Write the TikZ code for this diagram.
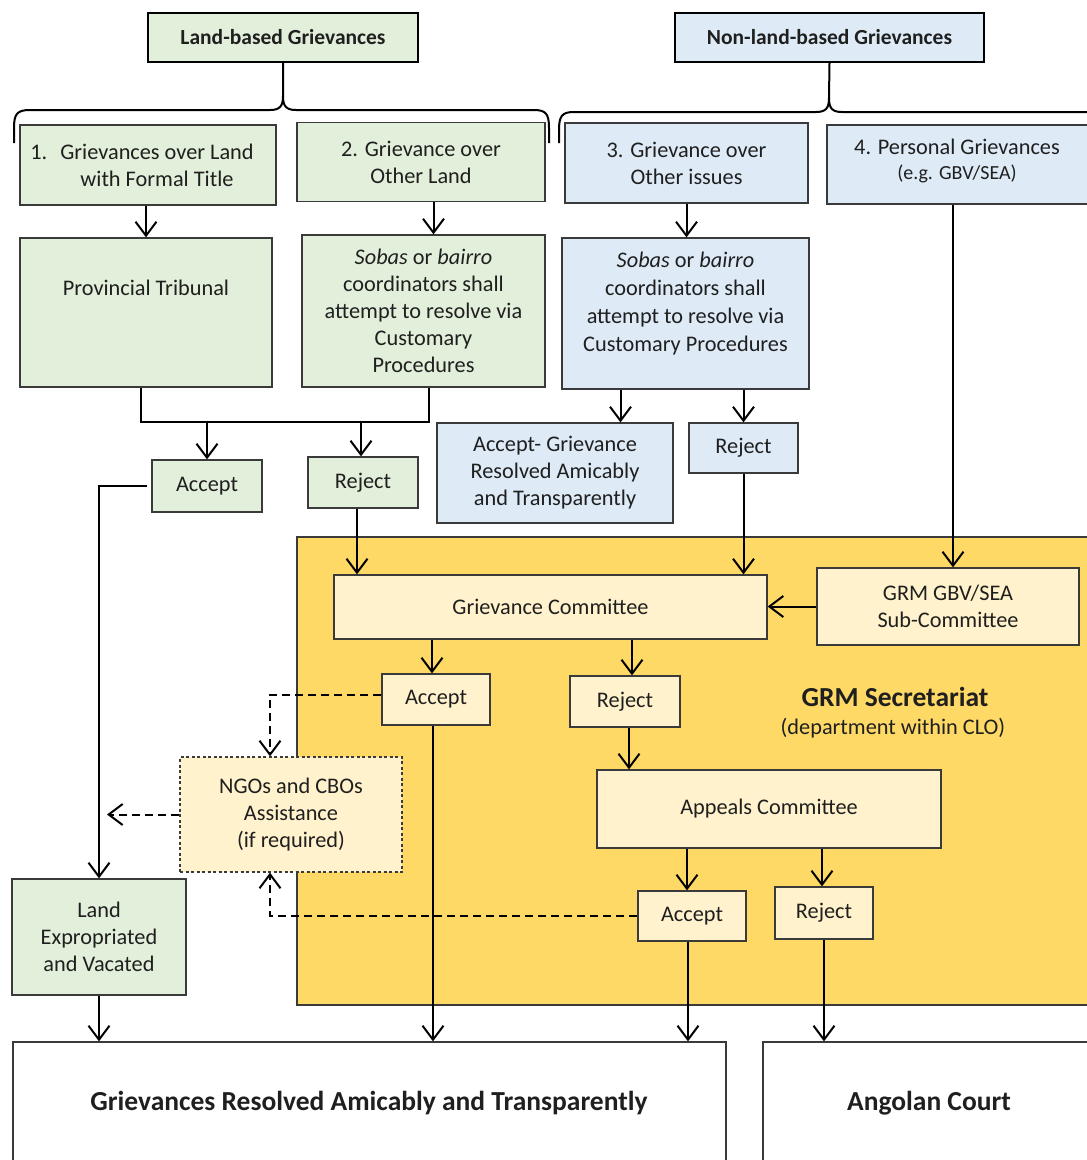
\documentclass[tikz,border=0pt]{standalone}
\usepackage{fontspec}
\setmainfont{Carlito}
\usetikzlibrary{arrows.meta,calc}

\definecolor{landfill}{HTML}{E2EFDA}
\definecolor{nonfill}{HTML}{DEEBF7}
\definecolor{secfill}{HTML}{FFD966}
\definecolor{paleyellow}{HTML}{FFF2CC}
\definecolor{edge}{HTML}{3A3A3A}
\definecolor{ink}{HTML}{1F1F1F}

\tikzset{
  base/.style={draw=edge, line width=1.3pt, align=center, text=ink, inner sep=0pt,
               font=\fontsize{22.3}{27}\selectfont},
  landbox/.style={base, fill=landfill},
  nonbox/.style={base, fill=nonfill},
  ybox/.style={base, fill=paleyellow},
  titlebox/.style={base, draw=black, line width=2.2pt, font=\bfseries\fontsize{21.5}{25}\selectfont},
  outbox/.style={base, fill=white},
  txt/.style={align=center, text=ink, inner sep=0pt, font=\fontsize{22.3}{27}\selectfont},
  bigtxt/.style={txt, font=\bfseries\fontsize{27.5}{32}\selectfont},
  conn/.style={draw=black, line width=2pt},
  arr/.style={conn, -{Straight Barb[length=14pt,width=21pt]}},
  darr/.style={conn, dash pattern=on 8pt off 5pt, -{Straight Barb[length=14pt,width=21pt]}},
  bracepath/.style={draw=black, line width=2pt},
}

\begin{document}
\begin{tikzpicture}[x=1pt, y=-1pt]
\useasboundingbox (0,0) rectangle (1087,1160);
\clip (0,0) rectangle (1087,1160);

% GRM Secretariat background panel
\draw[fill=secfill, draw=edge, line width=2pt] (297,537) rectangle (1100,1005);
\node[bigtxt] (sectitle) at (895,697) {GRM Secretariat};
\node[txt] (secsub) at (893,728) {(department within CLO)};

% category headings
\node[titlebox, fill=landfill, minimum width=270pt, minimum height=49pt] (lb) at (283,37.5) {Land-based Grievances};
\node[titlebox, fill=nonfill, minimum width=309pt, minimum height=49pt] (nlb) at (829.5,37.5) {Non-land-based Grievances};

% braces under the headings
\draw[bracepath] (lb.south) -- (283,96) .. controls (283,106) and (286,110) .. (296,110) -- (534,110)
  .. controls (546,110) and (549,114) .. (549,128) -- (549,143);
\draw[bracepath] (283,96) .. controls (283,106) and (280,110) .. (270,110) -- (30,110)
  .. controls (17,110) and (14,114) .. (14,128) -- (14,143);
\draw[bracepath] (nlb.south) -- (829,98) .. controls (829,108) and (832,112) .. (842,112) -- (1100,112);
\draw[bracepath] (829,98) .. controls (829,108) and (826,112) .. (816,112) -- (574,112)
  .. controls (562,112) and (559,116) .. (559,130) -- (559,143);

% grievance types
\node[landbox, minimum width=256pt, minimum height=80pt] (b1) at (148,165) {};
\node[txt] (b1text) at (157,165) {\llap{1.\hspace{13pt}}Grievances over Land\\with Formal Title};
\node[landbox, minimum width=248pt, minimum height=79pt] (b2) at (421,162) {2. Grievance over\\Other Land};
\node[nonbox, minimum width=243pt, minimum height=80pt] (b3) at (686.5,163) {3. Grievance over\\Other issues};
\node[nonbox, minimum width=272pt, minimum height=79pt] (b4) at (963,164.5) {};
\node[txt] (b4a) at (957,147) {4. Personal Grievances};
\node[txt, font=\fontsize{20}{24}\selectfont] (b4b) at (957,174) {(e.g. GBV/SEA)};

% first-level handling
\node[landbox, minimum width=252pt, minimum height=149pt] (pt) at (146,312.5) {};
\node[txt] (pttext) at (146,288) {Provincial Tribunal};
\node[landbox, minimum width=243pt, minimum height=152pt] (sob) at (423.5,311)
  {\textit{Sobas} or \textit{bairro}\\coordinators shall\\attempt to resolve via\\Customary\\Procedures};
\node[nonbox, minimum width=247pt, minimum height=151pt] (sobb) at (685.5,313.5) {};
\node[txt, font=\fontsize{22.3}{28}\selectfont] (sobbtext) at (685.5,303.5)
  {\textit{Sobas} or \textit{bairro}\\coordinators shall\\attempt to resolve via\\Customary Procedures};

\node[landbox, minimum width=110pt, minimum height=52pt] (acc1) at (207,486) {Accept};
\node[landbox, minimum width=110pt, minimum height=51pt] (rej1) at (363,482.5) {Reject};
\node[nonbox, minimum width=236pt, minimum height=100pt] (accb) at (555,473)
  {Accept- Grievance\\Resolved Amicably\\and Transparently};
\node[nonbox, minimum width=109pt, minimum height=50pt] (rejb) at (743.5,448) {Reject};

% GRM Secretariat committees
\node[ybox, minimum width=433pt, minimum height=64pt] (gc) at (550.5,607) {Grievance Committee};
\node[ybox, minimum width=262pt, minimum height=77pt] (gbv) at (948,606.5) {GRM GBV/SEA\\Sub-Committee};
\node[ybox, minimum width=108pt, minimum height=51pt] (accy) at (436,699.5) {Accept};
\node[ybox, minimum width=110pt, minimum height=51pt] (rejy) at (625,701.5) {Reject};
\node[ybox, minimum width=344pt, minimum height=78pt] (app) at (769,809) {Appeals Committee};
\node[ybox, minimum width=108pt, minimum height=50pt] (acc3) at (692,916) {Accept};
\node[ybox, minimum width=98pt, minimum height=52pt] (rej3) at (824,913) {Reject};
\node[ybox, dash pattern=on 3pt off 2.5pt, line width=1.2pt, minimum width=222pt, minimum height=115pt] (ngo) at (291,814.5)
  {NGOs and CBOs\\Assistance\\(if required)};
\node[landbox, minimum width=174pt, minimum height=116pt] (land) at (99,937) {Land\\Expropriated\\and Vacated};

% outcomes
\node[outbox, minimum width=713pt, minimum height=130pt] (res) at (369.5,1107) {};
\node[bigtxt] (restext) at (369,1103) {Grievances Resolved Amicably and Transparently};
\node[outbox, minimum width=337pt, minimum height=130pt] (court) at (931.5,1107) {};
\node[bigtxt] (courttext) at (929,1103) {Angolan Court};

% connectors
\coordinate (jn) at (0,422);
\draw[arr] (pt.north |- b1.south) -- (pt.north);
\draw[arr] ([xshift=10pt]sob.north |- b2.south) -- ([xshift=10pt]sob.north);
\draw[arr] (b3.south) -- (b3.south |- sobb.north);
\draw[conn] ([xshift=-5pt]pt.south) -- ([xshift=-5pt]pt.south |- jn) -| ([xshift=5pt]sob.south);
\draw[arr] (acc1.north |- jn) -- (acc1.north);
\draw[arr] ([xshift=-2pt]rej1.north |- jn) -- ([xshift=-2pt]rej1.north);
\draw[arr] ([xshift=-65pt]sobb.south) -- ([xshift=-65pt]sobb.south |- accb.north);
\draw[arr] (rejb.north |- sobb.south) -- (rejb.north);

\draw[conn, shorten <=4pt, -{Straight Barb[length=14pt,width=21pt]}] (acc1.west) -| (land.north);
\draw[arr] ([xshift=-6pt]rej1.south) -- ([xshift=-6pt]rej1.south |- gc.north);
\draw[arr] (rejb.south) -- (rejb.south |- gc.north);
\draw[arr] ([xshift=5pt]gbv.north |- b4.south) -- ([xshift=5pt]gbv.north);
\draw[arr] (gbv.west) -- (gc.east |- gbv.west);

\draw[arr] ([xshift=-4pt]accy.north |- gc.south) -- ([xshift=-4pt]accy.north);
\draw[arr] ([xshift=7pt]rejy.north |- gc.south) -- ([xshift=7pt]rejy.north);
\draw[arr] ([xshift=4pt]rejy.south) -- ([xshift=4pt]rejy.south |- app.north);
\draw[arr] ([xshift=-5pt]acc3.north |- app.south) -- ([xshift=-5pt]acc3.north);
\draw[arr] ([xshift=-2pt]rej3.north |- app.south) -- ([xshift=-2pt]rej3.north);

\draw[darr] ([yshift=5pt]accy.west) -| ([xshift=-21pt]ngo.north);
\draw[darr] (acc3.west) -| ([xshift=-21pt]ngo.south);
\draw[darr] (ngo.west) -- ([xshift=8pt]ngo.west -| land.north);

\draw[arr] (land.south) -- (land.south |- res.north);
\draw[arr] ([xshift=-3pt]accy.south) -- ([xshift=-3pt]accy.south |- res.north);
\draw[arr] ([xshift=-4pt]acc3.south) -- ([xshift=-4pt]acc3.south |- res.north);
\draw[arr] (rej3.south) -- (rej3.south |- court.north);
\end{tikzpicture}
\end{document}
